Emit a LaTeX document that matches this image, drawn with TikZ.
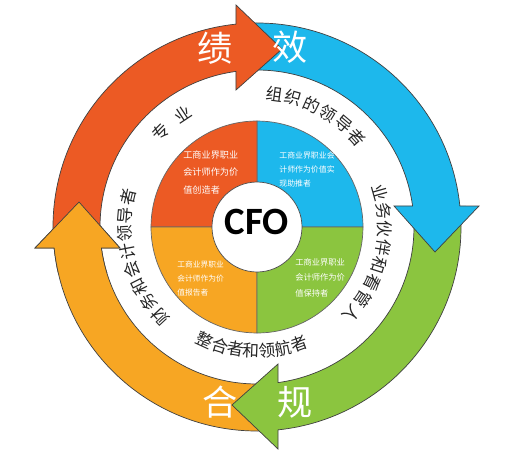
\documentclass[tikz,border=0pt]{standalone}
\usepackage{fontspec}
\newfontfamily\cjk{Noto Sans CJK SC}
\newfontfamily\cfofont{Carlito}
\definecolor{cfored}{RGB}{236,90,36}
\definecolor{cfoblue}{RGB}{29,184,236}
\definecolor{cfogreen}{RGB}{139,197,63}
\definecolor{cfoorange}{RGB}{247,166,35}
\tikzset{
  arrowline/.style={draw=black!75, line width=0.4pt},
  bigchar/.style={font=\cjk\fontsize{20}{20}\selectfont, text=white, inner sep=0pt},
  ringchar/.style={font=\cjk\fontsize{9.5}{9.5}\selectfont, text=black!85, inner sep=0pt},
  quadtext/.style={text=white, align=left, anchor=north west, inner sep=0pt}
}
\newcommand{\cyclearrow}[2]{%
  \begin{scope}[rotate=#2]
    \filldraw[arrowline, fill=#1] (93:204) arc[start angle=93, end angle=5.9, radius=4.08cm]
      -- (222,21) -- (178,-25) -- (137,21) -- (7.7:157)
      arc[start angle=7.7, end angle=93, radius=3.14cm] -- cycle;
  \end{scope}}

\begin{document}
\begin{tikzpicture}[x=0.02cm, y=0.02cm]
	\fill[white] (-257,-233) rectangle (267,227);
	\useasboundingbox (-257,-233) rectangle (267,227);
	
	\cyclearrow{cfoorange}{180}
	\cyclearrow{cfogreen}{-90}
	\cyclearrow{cfoblue}{0}
	\cyclearrow{cfored}{90}
	\begin{scope}
		\clip (-240,-45) rectangle (-110,45);
		\cyclearrow{cfoorange}{180}
	\end{scope}
	
	\foreach \a/\c in {0/cfoblue, 90/cfored, 180/cfoorange, 270/cfogreen}
	\filldraw[fill=\c, draw=black!60, line width=0.4pt] (0,0) -- (\a:106) arc[start angle=\a, end angle=\a+90, radius=2.12cm] -- cycle;
	\filldraw[fill=white, draw=black!70, line width=0.4pt] (0,0) circle[radius=0.9cm];
	\node[font=\cfofont\bfseries\fontsize{22}{22}\selectfont] (cfo) at (0,5) {CFO};
	
	\node[quadtext, font=\cjk\fontsize{5.2}{10.2}\selectfont] (creator) at (-74,77) {工商业界职业\\会计师作为价\\值创造者};
	\node[quadtext, font=\cjk\fontsize{4.5}{8.2}\selectfont] (enabler) at (22,76) {工商业界职业会\\计师作为价值实\\现助推者};
	\node[quadtext, font=\cjk\fontsize{4.4}{8}\selectfont] (reporter) at (-80,-34) {工商业界职业\\会计师作为价\\值报告者};
	\node[quadtext, font=\cjk\fontsize{4.7}{8.8}\selectfont] (keeper) at (38,-31) {工商业界职业\\会计师作为价\\值保持者};
	
	\node[bigchar] (ji) at (-42,179) {绩};
	\node[bigchar] (xiao) at (33,180) {效};
	\node[bigchar] (he) at (-37,-175) {合};
	\node[bigchar] (gui) at (38,-175) {规};
	
	\foreach \ch [count=\i] in {专,业} {
		\pgfmathsetmacro{\ang}{135.6-12.1*(\i-1)}
		\node[ringchar, rotate=\ang-90] (pro\i) at (\ang:135) {\ch};
	}
	\foreach \ch [count=\i] in {组,织,的,领,导,者} {
		\pgfmathsetmacro{\ang}{82.3-8.1*(\i-1)}
		\node[ringchar, rotate=\ang-90] (lead\i) at (\ang:134) {\ch};
	}
	\foreach \ch [count=\i] in {业,务,伙,伴,和,看,管,人} {
		\pgfmathsetmacro{\ang}{15.6-8.3*(\i-1)}
		\node[ringchar, rotate=\ang-90] (partner\i) at (\ang:128) {\ch};
	}
	\foreach \ch [count=\i] in {整,合,者,和,领,航,者} {
		\pgfmathsetmacro{\ang}{245.3+7.4*(\i-1)}
		\node[ringchar, rotate=\ang+90] (nav\i) at (\ang:124) {\ch};
	}
	\foreach \ch [count=\i] in {财,务,和,会,计,领,导,者} {
		\pgfmathsetmacro{\ang}{222.9-8.0*(\i-1)}
		\node[ringchar, rotate=\ang-90] (fin\i) at (\ang:132) {\ch};
	}
\end{tikzpicture}
\end{document}
